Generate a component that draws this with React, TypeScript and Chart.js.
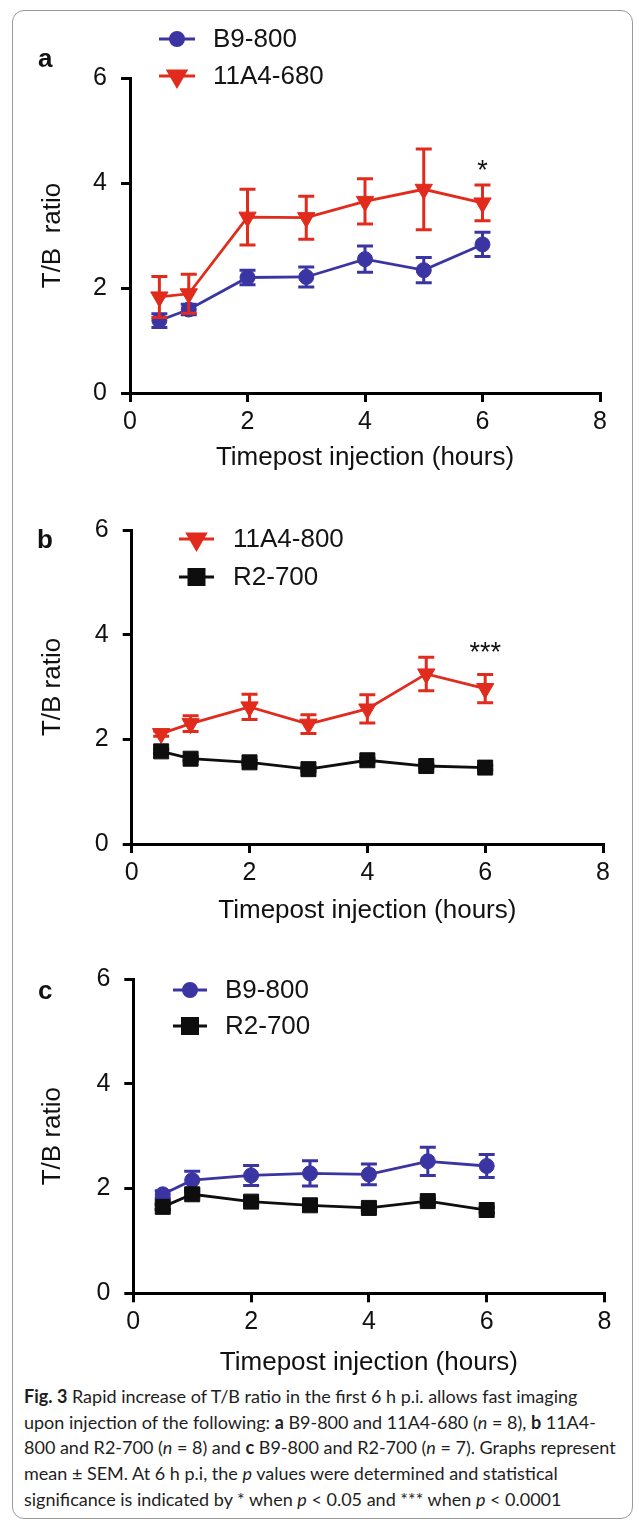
import React, { useEffect, useRef } from "react";
import { Chart, registerables } from "chart.js";
import { drawPoint } from "chart.js/helpers";

Chart.register(...registerables);

// ---------- data ----------
const timePoints = [0.5, 1, 2, 3, 4, 5, 6];
const xTicks = [0, 2, 4, 6, 8];
const yTicks = [0, 2, 4, 6];

// Panel a
const aB9800 = [1.38, 1.59, 2.2, 2.21, 2.55, 2.34, 2.83];
const aB9800Err = [0.13, 0.1, 0.14, 0.19, 0.25, 0.24, 0.23];
const a11A4680 = [1.83, 1.89, 3.35, 3.34, 3.65, 3.88, 3.62];
const a11A4680Err = [0.39, 0.37, 0.53, 0.41, 0.43, 0.77, 0.34];
const aSigX = [6];
const aSigY = [4.37];
const aSigText = ["*"];

// Panel b
const b11A4800 = [2.11, 2.3, 2.62, 2.29, 2.58, 3.25, 2.97];
const b11A4800Err = [0.05, 0.15, 0.24, 0.18, 0.27, 0.32, 0.27];
const bR2700 = [1.77, 1.63, 1.56, 1.43, 1.6, 1.49, 1.46];
const bR2700Err = [0.04, 0.04, 0.04, 0.04, 0.04, 0.04, 0.04];
const bSigX = [6];
const bSigY = [3.79];
const bSigText = ["***"];

// Panel c
const cB9800 = [1.89, 2.16, 2.25, 2.29, 2.27, 2.52, 2.43];
const cB9800Err = [0.07, 0.17, 0.19, 0.24, 0.2, 0.27, 0.22];
const cR2700 = [1.65, 1.89, 1.75, 1.68, 1.63, 1.76, 1.59];
const cR2700Err = [0.05, 0.05, 0.05, 0.05, 0.05, 0.05, 0.05];

const xTitle = "Timepost injection (hours)";

// ---------- styles ----------
const BLUE = "#3a35a2";
const RED = "#e12b1d";
const BLACK = "#0e0e0e";
const FONT = '"Liberation Sans", Arial, Helvetica, sans-serif';

Chart.defaults.font.family = FONT;
Chart.defaults.color = "#111";

type SeriesDef = {
  label: string;
  values: number[];
  errors: number[];
  color: string;
  style: "circle" | "triangle" | "rect";
};

const markerFor = (s: SeriesDef) => {
  if (s.style === "circle") return { pointStyle: "circle", radius: 7.5, rotation: 0 };
  if (s.style === "triangle") return { pointStyle: "triangle", radius: 10, rotation: 180 };
  return { pointStyle: "rect", radius: 10.6, rotation: 0 };
};

const errorBarPlugin = {
  id: "errorBars",
  beforeDatasetDraw(chart: any, args: any) {
    const ds = chart.data.datasets[args.index];
    const errs = ds.errorBars as number[] | undefined;
    if (!errs) return;
    const xs = chart.scales.x;
    const ys = chart.scales.y;
    const ctx = chart.ctx;
    ctx.save();
    ctx.strokeStyle = ds.borderColor;
    ctx.lineWidth = 3;
    ds.data.forEach((p: any, i: number) => {
      const e = errs[i];
      if (!e) return;
      const px = xs.getPixelForValue(p.x);
      const yT = ys.getPixelForValue(p.y + e);
      const yB = ys.getPixelForValue(p.y - e);
      ctx.beginPath();
      ctx.moveTo(px, yT);
      ctx.lineTo(px, yB);
      ctx.moveTo(px - 8, yT);
      ctx.lineTo(px + 8, yT);
      ctx.moveTo(px - 8, yB);
      ctx.lineTo(px + 8, yB);
      ctx.stroke();
    });
    ctx.restore();
  },
};

const lineLegendPlugin = {
  id: "lineLegend",
  afterDraw(chart: any, _a: any, opts: any) {
    if (!opts || !opts.rows) return;
    const ctx = chart.ctx;
    chart.data.datasets.forEach((ds: any, i: number) => {
      const y = opts.rows[i];
      ctx.save();
      ctx.strokeStyle = ds.borderColor;
      ctx.fillStyle = ds.borderColor;
      ctx.lineWidth = 3;
      ctx.beginPath();
      ctx.moveTo(opts.x1, y);
      ctx.lineTo(opts.x2, y);
      ctx.stroke();
      const r = ds.pointStyle === "circle" ? 6.5 : ds.pointRadius;
      drawPoint(
        ctx,
        { pointStyle: ds.pointStyle, rotation: ds.pointRotation, radius: r, borderWidth: 1 },
        (opts.x1 + opts.x2) / 2,
        y
      );
      ctx.fillStyle = "#141414";
      ctx.font = `26px ${FONT}`;
      ctx.textAlign = "left";
      ctx.textBaseline = "middle";
      ctx.fillText(ds.label, opts.textX, y + 1);
      ctx.restore();
    });
  },
};

const sigPlugin = {
  id: "sigMarks",
  afterDatasetsDraw(chart: any, _a: any, opts: any) {
    if (!opts || !opts.xs) return;
    const ctx = chart.ctx;
    ctx.save();
    ctx.fillStyle = "#141414";
    ctx.font = `27px ${FONT}`;
    ctx.textAlign = "center";
    ctx.textBaseline = "alphabetic";
    opts.xs.forEach((x: number, i: number) => {
      const px = chart.scales.x.getPixelForValue(x);
      const py = chart.scales.y.getPixelForValue(opts.ys[i]);
      ctx.fillText(opts.texts[i], px, py + 15);
    });
    ctx.restore();
  },
};

type PanelLayout = {
  top: number;
  height: number;
  areaLeft: number;
  areaRight: number;
  areaTop: number;
  areaBottom: number;
  xTitlePad: number;
  legend: { x1: number; x2: number; rows: number[]; textX: number };
};

function buildConfig(
  series: SeriesDef[],
  yTitle: string,
  layout: PanelLayout,
  sig: { xs: number[]; ys: number[]; texts: string[] } | null
): any {
  const datasets = series.map((s, idx) => {
    const m = markerFor(s);
    return {
      label: s.label,
      data: timePoints.map((t, i) => ({ x: t, y: s.values[i] })),
      errorBars: s.errors,
      borderColor: s.color,
      backgroundColor: s.color,
      borderWidth: 2.8,
      pointStyle: m.pointStyle,
      pointRotation: m.rotation,
      pointRadius: m.radius,
      pointBorderWidth: 1,
      pointBackgroundColor: s.color,
      pointBorderColor: s.color,
      tension: 0,
      fill: false,
      order: series.length - 1 - idx,
    };
  });

  return {
    type: "line",
    data: { datasets },
    plugins: [errorBarPlugin, lineLegendPlugin, sigPlugin],
    options: {
      animation: false,
      responsive: false,
      maintainAspectRatio: false,
      events: [],
      layout: {
        padding: {
          top: layout.areaTop,
          left: 0,
          right: 637 - layout.areaRight,
          bottom: 0,
        },
      },
      plugins: {
        legend: { display: false },
        tooltip: { enabled: false },
        lineLegend: layout.legend,
        sigMarks: sig,
      },
      scales: {
        x: {
          type: "linear",
          min: 0,
          max: 8,
          afterBuildTicks: (sc: any) => {
            sc.ticks = xTicks.map((v) => ({ value: v }));
          },
          afterFit: (sc: any) => {
            sc.height = layout.height - layout.areaBottom;
          },
          border: { display: true, color: "#000", width: 3 },
          grid: {
            display: true,
            drawOnChartArea: false,
            drawTicks: true,
            tickLength: 9,
            color: "#000",
            lineWidth: 3,
          },
          ticks: {
            color: "#111",
            font: { size: 25 },
            padding: 5,
            maxRotation: 0,
            callback: (v: number) => String(v),
          },
          title: {
            display: true,
            text: xTitle,
            color: "#111",
            font: { size: 26 },
            padding: { top: 0, bottom: layout.xTitlePad - 0.6 },
          },
        },
        y: {
          type: "linear",
          min: 0,
          max: 6,
          afterBuildTicks: (sc: any) => {
            sc.ticks = yTicks.map((v) => ({ value: v }));
          },
          afterFit: (sc: any) => {
            sc.width = layout.areaLeft;
          },
          border: { display: true, color: "#000", width: 3 },
          grid: {
            display: true,
            drawOnChartArea: false,
            drawTicks: true,
            tickLength: 9,
            color: "#000",
            lineWidth: 3,
          },
          ticks: {
            color: "#111",
            font: { size: 25 },
            padding: 14,
            callback: (v: number) => String(v),
          },
          title: {
            display: true,
            text: yTitle,
            color: "#111",
            font: { size: 26 },
            padding: { top: 37.4, bottom: 0 },
          },
        },
      },
    },
  };
}

const layoutA: PanelLayout = {
  top: 0,
  height: 490,
  areaLeft: 130,
  areaRight: 600,
  areaTop: 78,
  areaBottom: 393,
  xTitlePad: 17,
  legend: { x1: 159, x2: 195, rows: [39, 76], textX: 213 },
};
const layoutB: PanelLayout = {
  top: 490,
  height: 450,
  areaLeft: 131.7,
  areaRight: 603,
  areaTop: 40,
  areaBottom: 354,
  xTitlePad: 14,
  legend: { x1: 179, x2: 214, rows: [49, 87], textX: 233 },
};
const layoutC: PanelLayout = {
  top: 940,
  height: 440,
  areaLeft: 133.3,
  areaRight: 604.5,
  areaTop: 39,
  areaBottom: 353.3,
  xTitlePad: 2,
  legend: { x1: 173, x2: 207, rows: [50, 86], textX: 225 },
};

function Panel(props: { config: any; layout: PanelLayout }) {
  const ref = useRef<HTMLCanvasElement | null>(null);
  useEffect(() => {
    if (!ref.current) return;
    const chart = new Chart(ref.current, props.config);
    return () => chart.destroy();
  }, []);
  return (
    <canvas
      ref={ref}
      width={637}
      height={props.layout.height}
      style={{
        position: "absolute",
        left: 0,
        top: props.layout.top,
        width: 637,
        height: props.layout.height,
      }}
    />
  );
}

const letterStyle = (left: number, top: number): React.CSSProperties => ({
  position: "absolute",
  left,
  top,
  fontFamily: FONT,
  fontWeight: 700,
  fontSize: 26,
  lineHeight: "26px",
  color: "#111",
});

const capStyle: React.CSSProperties = {
  fontFamily: 'Lato, "Open Sans", sans-serif',
  fontSize: 18,
  lineHeight: "25.7px",
  whiteSpace: "nowrap",
  color: "#1e1e1e",
};

export default function App() {
  const cfgA = buildConfig(
    [
      { label: "B9-800", values: aB9800, errors: aB9800Err, color: BLUE, style: "circle" },
      { label: "11A4-680", values: a11A4680, errors: a11A4680Err, color: RED, style: "triangle" },
    ],
    "T/B  ratio",
    layoutA,
    { xs: aSigX, ys: aSigY, texts: aSigText }
  );
  const cfgB = buildConfig(
    [
      { label: "11A4-800", values: b11A4800, errors: b11A4800Err, color: RED, style: "triangle" },
      { label: "R2-700", values: bR2700, errors: bR2700Err, color: BLACK, style: "rect" },
    ],
    "T/B ratio",
    layoutB,
    { xs: bSigX, ys: bSigY, texts: bSigText }
  );
  const cfgC = buildConfig(
    [
      { label: "B9-800", values: cB9800, errors: cB9800Err, color: BLUE, style: "circle" },
      { label: "R2-700", values: cR2700, errors: cR2700Err, color: BLACK, style: "rect" },
    ],
    "T/B ratio",
    layoutC,
    null
  );

  return (
    <div
      style={{
        position: "absolute",
        left: 0,
        top: 0,
        width: 637,
        height: 1525,
        background: "#fff",
        overflow: "hidden",
      }}
    >
      <div
        style={{
          position: "absolute",
          left: 12,
          top: 10,
          width: 621,
          height: 1509,
          boxSizing: "border-box",
          border: "1.5px solid #9a9a9a",
          borderRadius: 12,
        }}
      />
      <Panel config={cfgA} layout={layoutA} />
      <Panel config={cfgB} layout={layoutB} />
      <Panel config={cfgC} layout={layoutC} />
      <div style={letterStyle(38, 45)}>a</div>
      <div style={letterStyle(37, 526)}>b</div>
      <div style={letterStyle(38, 977)}>c</div>
      <div style={{ position: "absolute", left: 24, top: 1384 }}>
        <div style={capStyle}>
          <b>Fig. 3</b> Rapid increase of T/B ratio in the first 6 h p.i. allows fast imaging
        </div>
        <div style={capStyle}>
          upon injection of the following: <b>a</b> B9-800 and 11A4-680 (<i>n</i> = 8), <b>b</b> 11A4-
        </div>
        <div style={capStyle}>
          800 and R2-700 (<i>n</i> = 8) and <b>c</b> B9-800 and R2-700 (<i>n</i> = 7). Graphs represent
        </div>
        <div style={capStyle}>
          mean ± SEM. At 6 h p.i, the <i>p</i> values were determined and statistical
        </div>
        <div style={capStyle}>
          significance is indicated by * when <i>p</i> &lt; 0.05 and *** when <i>p</i> &lt; 0.0001
        </div>
      </div>
    </div>
  );
}
